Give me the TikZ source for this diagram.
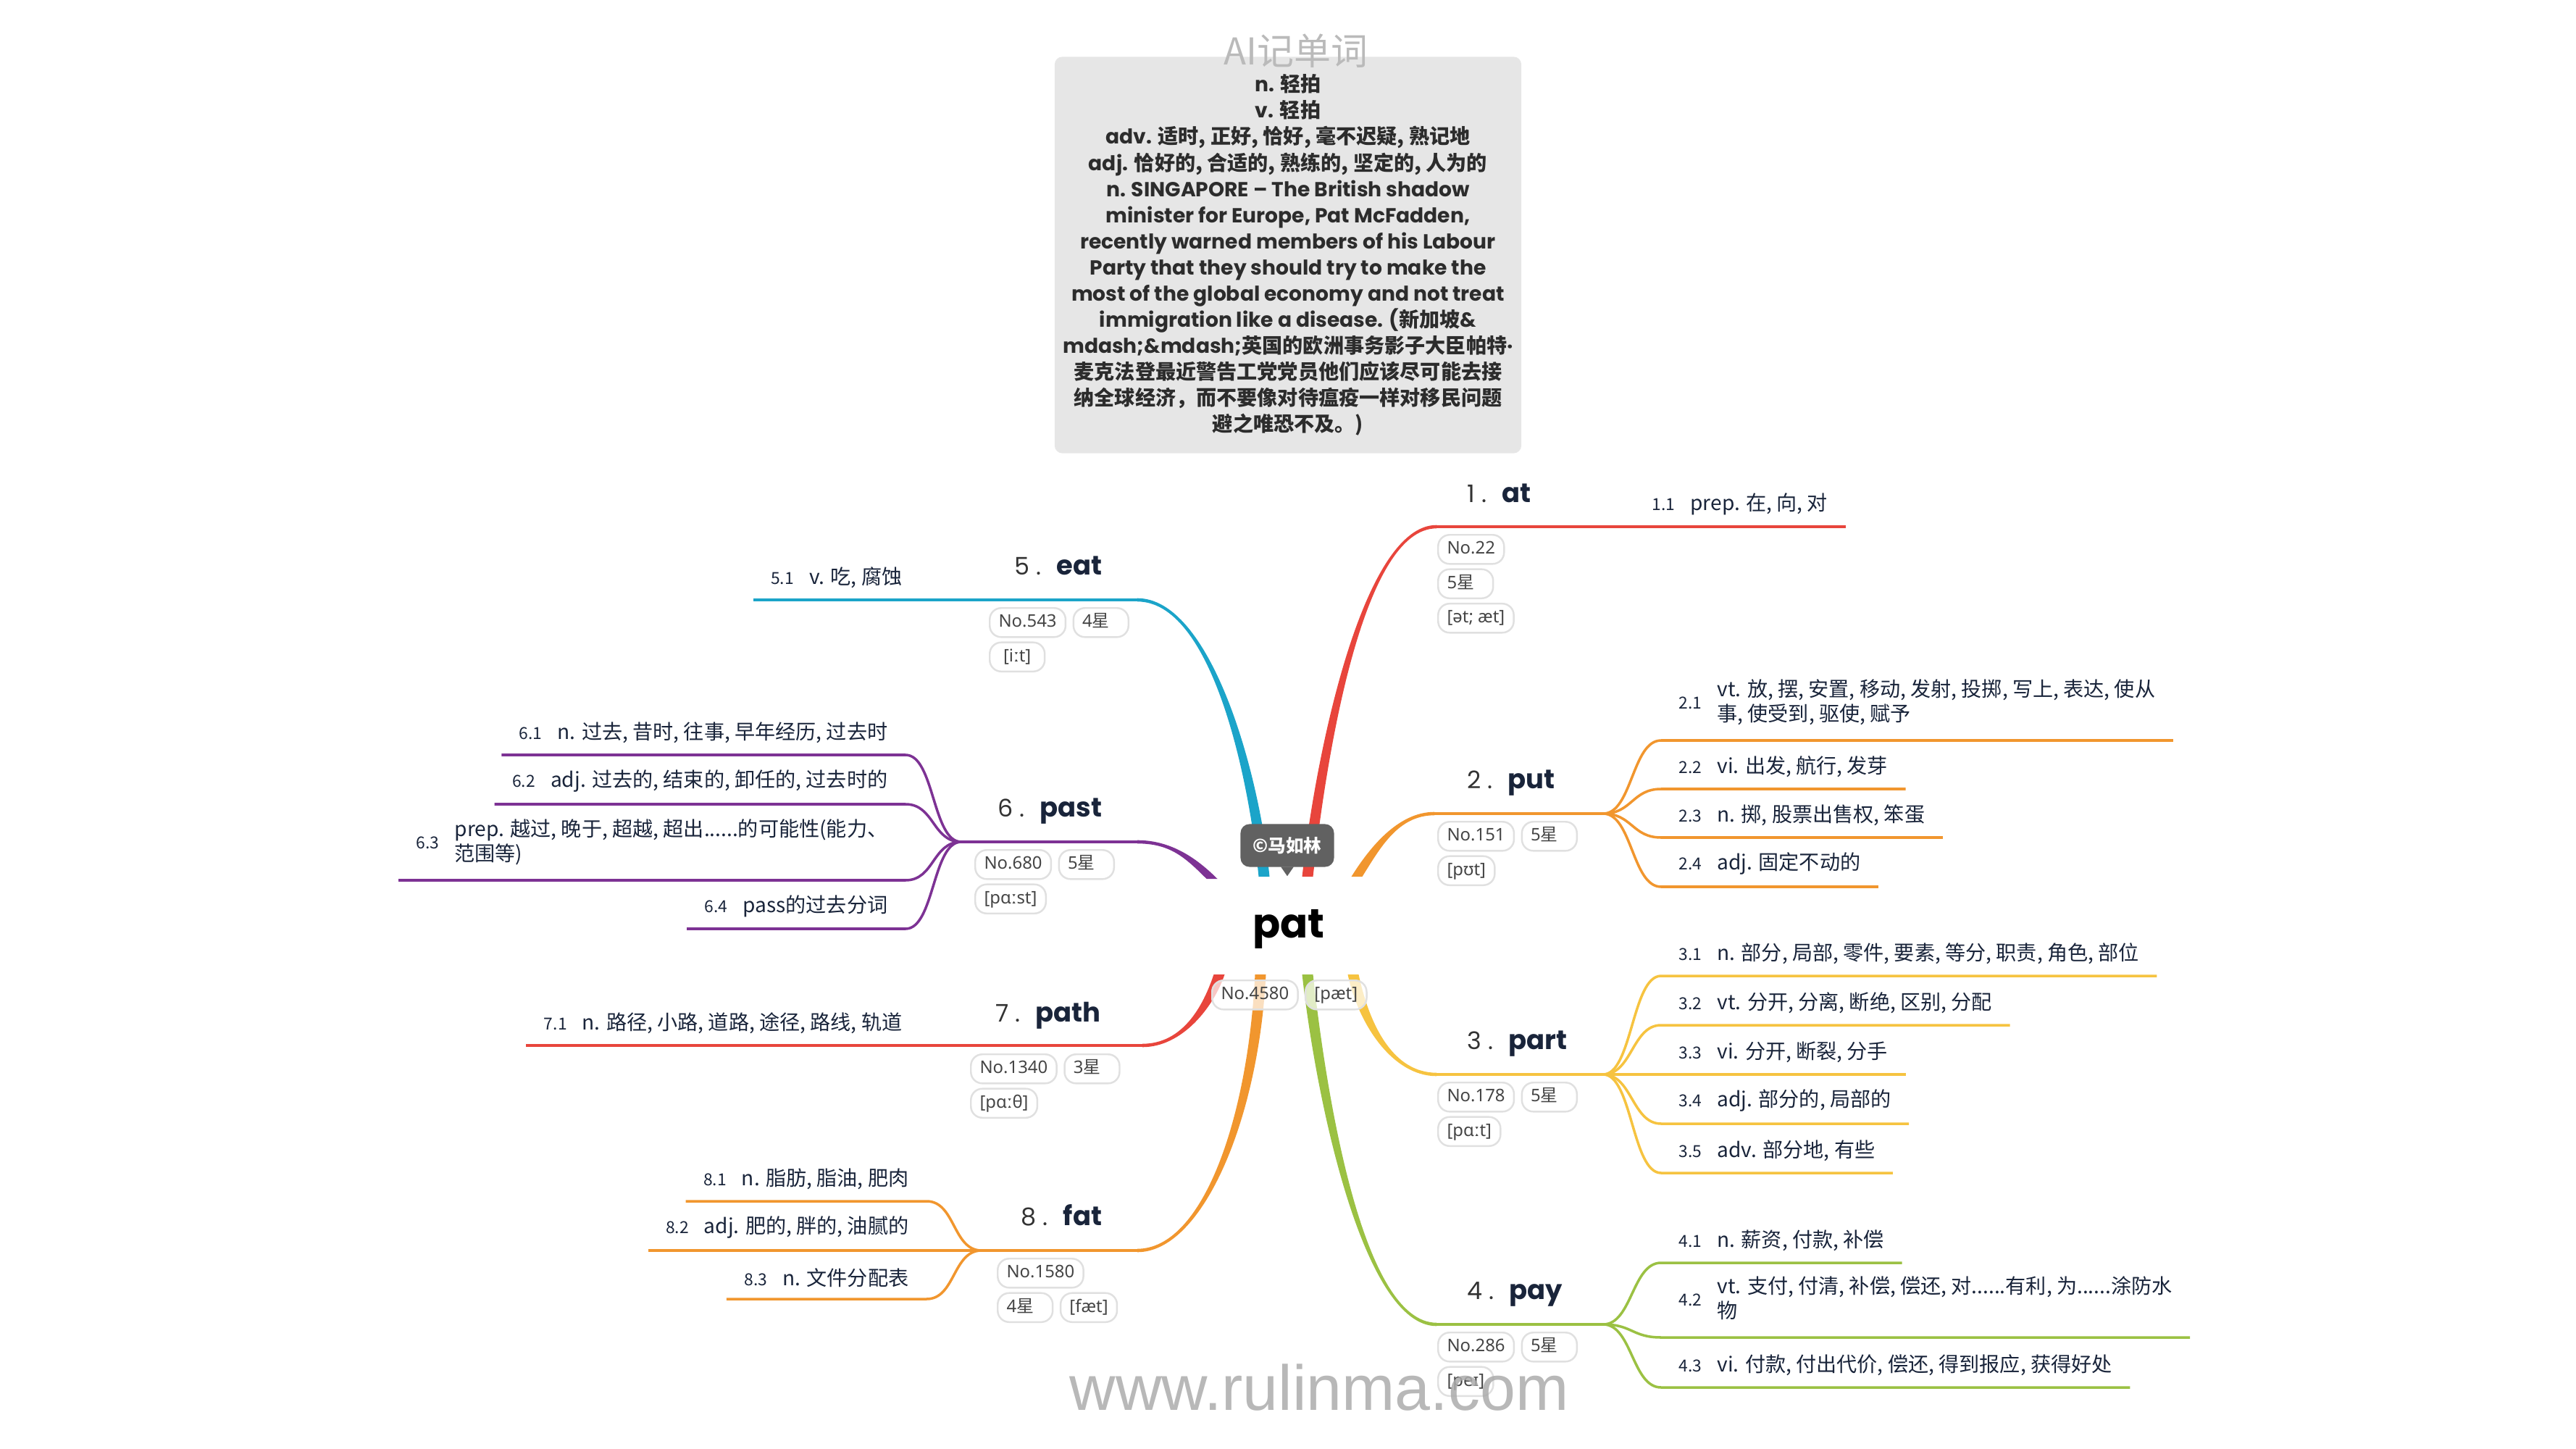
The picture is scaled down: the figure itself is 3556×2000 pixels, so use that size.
\documentclass[tikz,border=0pt]{standalone}
\usepackage{fontspec}
\setmainfont{Noto Sans}
\newfontfamily\cjk{Noto Sans CJK SC}
\newfontfamily\pop{Poppins}
\newfontfamily\arial{Liberation Sans}
\usetikzlibrary{positioning,calc}

\definecolor{cred}{HTML}{E8453C}
\definecolor{corange}{HTML}{F1962E}
\definecolor{cyellow}{HTML}{F6C340}
\definecolor{cgreen}{HTML}{9BC143}
\definecolor{cblue}{HTML}{1BA4C9}
\definecolor{cpurple}{HTML}{7D3294}
\definecolor{ink}{HTML}{19243A}
\definecolor{tagline}{HTML}{E0E0E0}
\definecolor{tagtext}{HTML}{454545}
\definecolor{notefill}{HTML}{E6E6E6}
\definecolor{notetext}{HTML}{2C2C2C}
\definecolor{marker}{HTML}{616161}

\newcommand{\subnum}[1]{{\fontsize{6.5}{8}\selectfont #1}\hspace{6pt}}
\newcommand{\twolines}[2]{\begin{tabular}[c]{@{}l@{}}#1\\#2\end{tabular}}
\newcommand{\topiclabel}[2]{{\pop\fontsize{9.5}{11}\selectfont\color{black!80}#1\hspace{2.5pt}.}\hspace{6pt}{\pop\bfseries\fontsize{10.5}{12}\selectfont #2}}
\newcommand{\notelat}[1]{{\pop\bfseries #1}}
% tapered main branch: colour, start, end, control 1, control 2, side
\newcommand{\mmbranch}[6]{%
  \fill[#1] ($(#2)+(-7.5*#6,0)$) .. controls +(#4) and +(#5) .. ($(#3)+(0,-2.3)$)
    -- ($(#3)+(0,2.3)$) .. controls +(#5) and +(#4) .. ($(#2)+(7.5*#6,0)$) -- cycle;}

\begin{document}
\begin{tikzpicture}[x=0.01cm,y=-0.01cm]
  \tikzset{subitem/.style = {inner xsep=6.8pt, inner ysep=4.5pt, text=ink, font=\cjk\fontsize{8}{9.7}\selectfont}}
  \tikzset{subline/.style = {line width=1pt}}
  \tikzset{topline/.style = {line width=1.3pt}}
  \tikzset{topic/.style = {inner sep=0pt, text=ink}}
  \tikzset{tagbox/.style = {draw=tagline, line width=0.7pt, rounded corners=4.5pt, fill=white, text=tagtext, font=\fontsize{6.8}{8}\selectfont, inner xsep=3.5pt, inner ysep=0pt, minimum height=11.4pt, minimum width=21.6pt, text height=5.2pt, text depth=1.4pt}}
  \tikzset{tagboxn/.style = {tagbox, text width=14.6pt}}

  \useasboundingbox (0,0) rectangle (3556,2000);

  % note card on top
  \node[fill=notefill, rounded corners=3pt, minimum width=183.2pt, minimum height=155.6pt, inner sep=0pt, align=center, text=notetext, font=\cjk\bfseries\fontsize{8}{10.25}\selectfont] (note) at (1778,352) {%
    \notelat{n.} 轻拍\\
    \notelat{v.} 轻拍\\
    \notelat{adv.} 适时, 正好, 恰好, 毫不迟疑, 熟记地\\
    \notelat{adj.} 恰好的, 合适的, 熟练的, 坚定的, 人为的\\
    \notelat{n. SINGAPORE – The British shadow}\\
    \notelat{minister for Europe, Pat McFadden,}\\
    \notelat{recently warned members of his Labour}\\
    \notelat{Party that they should try to make the}\\
    \notelat{most of the global economy and not treat}\\
    \notelat{immigration like a disease. (}新加坡\notelat{\&}\\
    \notelat{mdash;\&mdash;}英国的欧洲事务影子大臣帕特\notelat{·}\\
    麦克法登最近警告工党党员他们应该尽可能去接\\
    纳全球经济，而不要像对待瘟疫一样对移民问题\\
    避之唯恐不及。)};
  \node[text=black!27, font=\cjk\fontsize{14.5}{16}\selectfont] (wmtop) at (1789,70) {AI记单词};

  % branch ends
  \coordinate (atS) at (1805,1210);   \coordinate (atT) at (1983,727);
  \coordinate (putS) at (1873,1210);  \coordinate (putT) at (1980,1123);  \coordinate (putF) at (2213,1123);
  \coordinate (partS) at (1868,1345); \coordinate (partT) at (1983,1483); \coordinate (partF) at (2213,1483);
  \coordinate (payS) at (1805,1345);  \coordinate (payT) at (1983,1828);  \coordinate (payF) at (2213,1828);
  \coordinate (eatS) at (1745,1210);  \coordinate (eatT) at (1570,828);
  \coordinate (pastS) at (1673,1213); \coordinate (pastT) at (1570,1162); \coordinate (pastF) at (1327,1162);
  \coordinate (pathS) at (1683,1345); \coordinate (pathT) at (1577,1443);
  \coordinate (fatS) at (1740,1345);  \coordinate (fatT) at (1570,1726);  \coordinate (fatF) at (1355,1726);

  \mmbranch{cred}{atS}{atT}{20,-180}{-100,0}{1}
  \mmbranch{corange}{putS}{putT}{25,-40}{-50,0}{1}
  \mmbranch{cyellow}{partS}{partT}{15,70}{-60,0}{-1}
  \mmbranch{cgreen}{payS}{payT}{20,180}{-100,0}{-1}
  \mmbranch{cblue}{eatS}{eatT}{-15,-150}{100,0}{-1}
  \mmbranch{cpurple}{pastS}{pastT}{-30,-30}{45,0}{-1}
  \mmbranch{cred}{pathS}{pathT}{-15,45}{55,0}{1}
  \mmbranch{corange}{fatS}{fatT}{-10,200}{90,0}{1}

  % meanings, right side
  \node[subitem, anchor=south west] (s11) at (2256,727) {\subnum{1.1}prep. 在, 向, 对};
  \node[subitem, anchor=south west] (s21) at (2293,1022) {\subnum{2.1}\twolines{vt. 放, 摆, 安置, 移动, 发射, 投掷, 写上, 表达, 使从}{事, 使受到, 驱使, 赋予}};
  \node[subitem, anchor=south west] (s22) at (2293,1089) {\subnum{2.2}vi. 出发, 航行, 发芽};
  \node[subitem, anchor=south west] (s23) at (2293,1156) {\subnum{2.3}n. 掷, 股票出售权, 笨蛋};
  \node[subitem, anchor=south west] (s24) at (2293,1224) {\subnum{2.4}adj. 固定不动的};
  \node[subitem, anchor=south west] (s31) at (2293,1347) {\subnum{3.1}n. 部分, 局部, 零件, 要素, 等分, 职责, 角色, 部位};
  \node[subitem, anchor=south west] (s32) at (2293,1415) {\subnum{3.2}vt. 分开, 分离, 断绝, 区别, 分配};
  \node[subitem, anchor=south west] (s33) at (2293,1483) {\subnum{3.3}vi. 分开, 断裂, 分手};
  \node[subitem, anchor=south west] (s34) at (2293,1551) {\subnum{3.4}adj. 部分的, 局部的};
  \node[subitem, anchor=south west] (s35) at (2293,1619) {\subnum{3.5}adv. 部分地, 有些};
  \node[subitem, anchor=south west] (s41) at (2293,1743) {\subnum{4.1}n. 薪资, 付款, 补偿};
  \node[subitem, anchor=south west] (s42) at (2293,1846) {\subnum{4.2}\twolines{vt. 支付, 付清, 补偿, 偿还, 对......有利, 为......涂防水}{物}};
  \node[subitem, anchor=south west] (s43) at (2293,1915) {\subnum{4.3}vi. 付款, 付出代价, 偿还, 得到报应, 获得好处};

  % meanings, left side
  \node[subitem, anchor=south east] (s51) at (1270,828) {\subnum{5.1}v. 吃, 腐蚀};
  \node[subitem, anchor=south east] (s61) at (1250,1042) {\subnum{6.1}n. 过去, 昔时, 往事, 早年经历, 过去时};
  \node[subitem, anchor=south east] (s62) at (1250,1110) {\subnum{6.2}adj. 过去的, 结束的, 卸任的, 过去时的};
  \node[subitem, anchor=south east] (s63) at (1250,1215) {\subnum{6.3}\twolines{prep. 越过, 晚于, 超越, 超出......的可能性(能力、}{范围等)}};
  \node[subitem, anchor=south east] (s64) at (1250,1282) {\subnum{6.4}pass的过去分词};
  \node[subitem, anchor=south east] (s71) at (1270,1443) {\subnum{7.1}n. 路径, 小路, 道路, 途径, 路线, 轨道};
  \node[subitem, anchor=south east] (s81) at (1279,1658) {\subnum{8.1}n. 脂肪, 脂油, 肥肉};
  \node[subitem, anchor=south east] (s82) at (1279,1726) {\subnum{8.2}adj. 肥的, 胖的, 油腻的};
  \node[subitem, anchor=south east] (s83) at (1279,1793) {\subnum{8.3}n. 文件分配表};

  % underlines and forks
  \draw[cred, topline] (atT) -- (s11.south east);
  \draw[corange, topline] (putT) -- (putF);
  \foreach \s in {s21,s22,s23,s24}
    \draw[corange, subline] (putF) .. controls +(40,0) and +(-40,0) .. (\s.south west) -- (\s.south east);
  \draw[cyellow, topline] (partT) -- (partF);
  \foreach \s in {s31,s32,s33,s34,s35}
    \draw[cyellow, subline] (partF) .. controls +(40,0) and +(-40,0) .. (\s.south west) -- (\s.south east);
  \draw[cgreen, topline] (payT) -- (payF);
  \foreach \s in {s41,s42,s43}
    \draw[cgreen, subline] (payF) .. controls +(40,0) and +(-40,0) .. (\s.south west) -- (\s.south east);
  \draw[cblue, topline] (eatT) -- (s51.south west);
  \draw[cpurple, topline] (pastT) -- (pastF);
  \foreach \s in {s61,s62,s63,s64}
    \draw[cpurple, subline] (pastF) .. controls +(-40,0) and +(40,0) .. (\s.south east) -- (\s.south west);
  \draw[cred, topline] (pathT) -- (s71.south west);
  \draw[corange, topline] (fatT) -- (fatF);
  \foreach \s in {s81,s82,s83}
    \draw[corange, subline] (fatF) .. controls +(-40,0) and +(40,0) .. (\s.south east) -- (\s.south west);

  % topic words
  \node[topic, anchor=base west] (tat) at (2025,693) {\topiclabel{1}{at}};
  \node[topic, anchor=base west] (tput) at (2025,1088) {\topiclabel{2}{put}};
  \node[topic, anchor=base west] (tpart) at (2025,1448) {\topiclabel{3}{part}};
  \node[topic, anchor=base west] (tpay) at (2025,1793) {\topiclabel{4}{pay}};
  \node[topic, anchor=base east] (teat) at (1522,793) {\topiclabel{5}{eat}};
  \node[topic, anchor=base east] (tpast) at (1522,1127) {\topiclabel{6}{past}};
  \node[topic, anchor=base east] (tpath) at (1520,1410) {\topiclabel{7}{path}};
  \node[topic, anchor=base east] (tfat) at (1522,1691) {\topiclabel{8}{fat}};

  % tags
  \node[tagbox, anchor=north west] (g11) at (1984,737) {No.22};
  \node[tagboxn, below=1.4pt of g11.south west, anchor=north west] (g12) {5{\cjk 星}};
  \node[tagbox, below=1.4pt of g12.south west, anchor=north west] (g13) {[ət; æt]};
  \node[tagbox, anchor=north west] (g21) at (1984,1133) {No.151};
  \node[tagboxn, right=2.4pt of g21] (g22) {5{\cjk 星}};
  \node[tagbox, below=1.4pt of g21.south west, anchor=north west] (g23) {[pʊt]};
  \node[tagbox, anchor=north west] (g31) at (1984,1493) {No.178};
  \node[tagboxn, right=2.4pt of g31] (g32) {5{\cjk 星}};
  \node[tagbox, below=1.4pt of g31.south west, anchor=north west] (g33) {[pɑːt]};
  \node[tagbox, anchor=north west] (g41) at (1984,1838) {No.286};
  \node[tagboxn, right=2.4pt of g41] (g42) {5{\cjk 星}};
  \node[tagbox, below=1.4pt of g41.south west, anchor=north west] (g43) {[peɪ]};
  \node[tagbox, anchor=north west] (g51) at (1365,838) {No.543};
  \node[tagboxn, right=2.4pt of g51] (g52) {4{\cjk 星}};
  \node[tagbox, below=1.4pt of g51.south west, anchor=north west] (g53) {[iːt]};
  \node[tagbox, anchor=north west] (g61) at (1345,1172) {No.680};
  \node[tagboxn, right=2.4pt of g61] (g62) {5{\cjk 星}};
  \node[tagbox, below=1.4pt of g61.south west, anchor=north west] (g63) {[pɑːst]};
  \node[tagbox, anchor=north west] (g71) at (1339,1454) {No.1340};
  \node[tagboxn, right=2.4pt of g71] (g72) {3{\cjk 星}};
  \node[tagbox, below=1.4pt of g71.south west, anchor=north west] (g73) {[pɑːθ]};
  \node[tagbox, anchor=north west] (g81) at (1376,1736) {No.1580};
  \node[tagboxn, below=1.4pt of g81.south west, anchor=north west] (g82) {4{\cjk 星}};
  \node[tagbox, right=2.4pt of g82] (g83) {[fæt]};

  % centre word
  \node[font=\pop\bfseries\fontsize{16}{18}\selectfont, text=black] (root) at (1779,1282) {pat};
  \node[tagbox, fill opacity=0.7, text opacity=1, anchor=north west] (g01) at (1672,1352) {No.4580};
  \node[tagbox, fill opacity=0.7, text opacity=1, right=2.3pt of g01] (g02) {[pæt]};
  \node[fill=marker, rounded corners=3.5pt, text=white, font=\cjk\bfseries\fontsize{7}{8}\selectfont, minimum width=36.7pt, minimum height=16.8pt, inner sep=0pt] (mark) at (1777,1167) {©马如林};
  \fill[marker] ($(mark.south)+(-9,-1)$) -- ($(mark.south)+(9,-1)$) -- ($(mark.south)+(0,12)$) -- cycle;

  \node[anchor=base, text=black!33, text opacity=0.85, font=\arial\fontsize{25}{28}\selectfont] (wmbot) at (1821,1946) {www.rulinma.com};
\end{tikzpicture}
\end{document}
